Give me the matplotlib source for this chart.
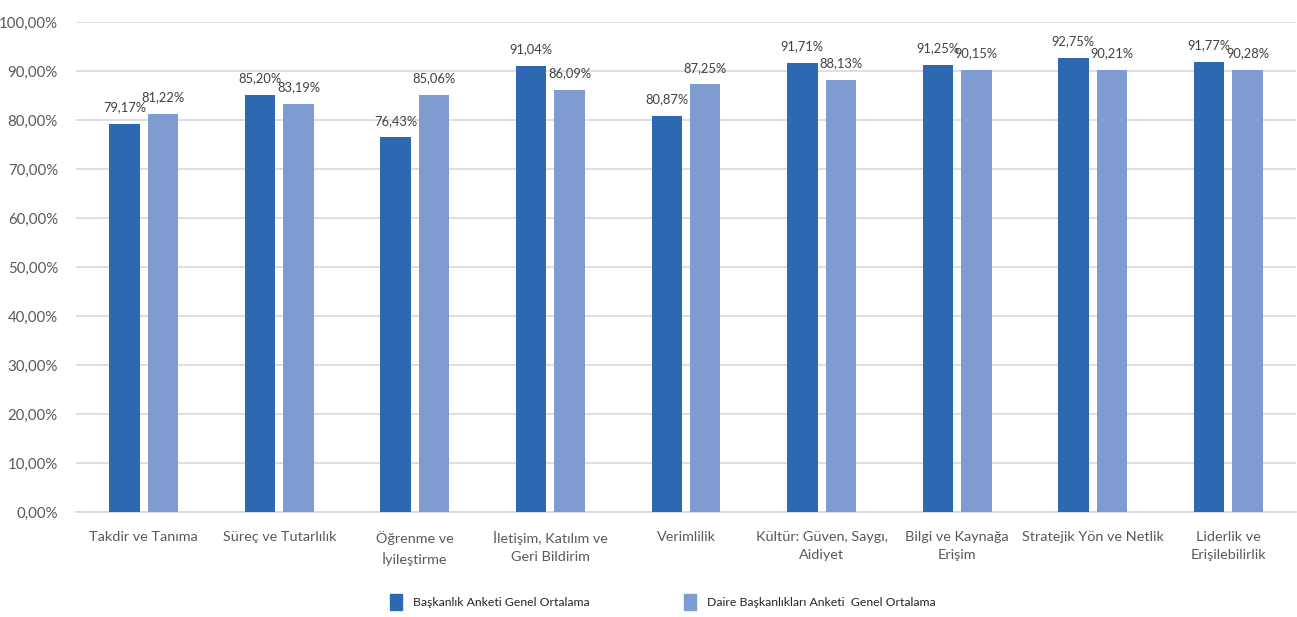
import numpy as np
import matplotlib
matplotlib.use('Agg')
import matplotlib.pyplot as plt
from matplotlib.patches import Patch

plt.rcParams['font.family'] = ['Lato', 'DejaVu Sans']

categories = ["Takdir ve Tanıma", "Süreç ve Tutarlılık", "Öğrenme ve\nİyileştirme",
              "İletişim, Katılım ve\nGeri Bildirim", "Verimlilik",
              "Kültür: Güven, Saygı,\nAidiyet", "Bilgi ve Kaynağa\nErişim",
              "Stratejik Yön ve Netlik", "Liderlik ve\nErişilebilirlik"]
baskanlik = [79.17, 85.20, 76.43, 91.04, 80.87, 91.71, 91.25, 92.75, 91.77]
daire = [81.22, 83.19, 85.06, 86.09, 87.25, 88.13, 90.15, 90.21, 90.28]
series_names = ["Başkanlık Anketi Genel Ortalama", "Daire Başkanlıkları Anketi  Genel Ortalama"]
yticks = np.arange(0, 101, 10)

c_dark = '#2F68B2'
c_light = '#7F9CD0'
txt = '#595959'

fig = plt.figure(figsize=(12.97, 6.17), dpi=100)
ax = fig.add_axes([76/1297, 1 - 512/617, 1220/1297, 490/617])

x = np.arange(len(categories))
w = 0.225
off = 0.142
b1 = ax.bar(x - off, baskanlik, w, color=c_dark, zorder=3)
b2 = ax.bar(x + off, daire, w, color=c_light, zorder=3)

def fmt(v):
    return f"{v:.2f}%".replace('.', ',')

for bars, vals in ((b1, baskanlik), (b2, daire)):
    for r, v in zip(bars, vals):
        ax.text(r.get_x() + r.get_width() / 2, v + 2.2, fmt(v), ha='center', va='bottom',
                fontsize=9.3, color='#404040')

ax.set_xlim(-0.5, len(categories) - 0.5)
ax.set_ylim(0, 100)
ax.set_yticks(yticks)
ax.set_yticklabels([f"{t:.2f}%".replace('.', ',') for t in yticks], fontsize=10.8, color=txt)
ax.set_xticks(x)
ax.set_xticklabels(categories, fontsize=10.4, color=txt, linespacing=1.55, va='top')
ax.tick_params(axis='both', length=0)
ax.tick_params(axis='x', pad=14)
ax.tick_params(axis='y', pad=13)
ax.grid(axis='y', color='#D9D9D9', lw=1.2, zorder=0)
for s in ['top', 'right', 'left']:
    ax.spines[s].set_visible(False)
ax.spines['bottom'].set_color('#D9D9D9')
ax.spines['bottom'].set_linewidth(1.2)

# two legend entries placed separately, like the source layout
for name, col, x0 in ((series_names[0], c_dark, 390), (series_names[1], c_light, 684)):
    fig.legend([Patch(color=col)], [name], loc='center left',
               bbox_to_anchor=(x0/1297, 1 - 602/617), frameon=False, fontsize=8.8,
               handlelength=0.95, handleheight=1.6, handletextpad=0.9,
               labelcolor='#262626', borderpad=0, borderaxespad=0)

fig.savefig('out.png', dpi=100)
